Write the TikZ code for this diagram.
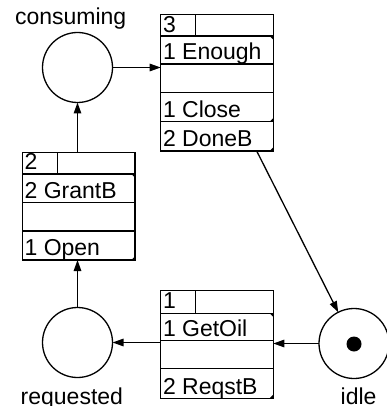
\documentclass[tikz,border=0pt]{standalone}
\usepackage{fontspec}
\setmainfont{Liberation Sans}
\usetikzlibrary{arrows.meta}
\begin{document}
\begin{tikzpicture}[x=1pt,y=-1pt,line width=1.3pt,
  every node/.style={inner sep=0pt,outer sep=0pt},
  txt/.style={anchor=base west,font=\fontsize{23}{27}\selectfont},
  place/.style={circle,draw,minimum size=70pt},
  token/.style={circle,fill,minimum size=15pt},
  tbox/.style={rectangle,draw,anchor=north west,minimum width=112.6pt},
  arr/.style={-{Triangle[length=11pt,width=7.5pt]}},
  corner/.style={fill}]
\useasboundingbox (0,0) rectangle (387,406);
% places
\node[place] (cons) at (77.5,67.5) {};
\node[place] (req) at (77.5,342.5) {};
\node[place] (idle) at (354,343.5) {};
\node[token] (tok) at (354,344) {};
\node[txt] (lcons) at (15,25) {consuming};
\node[txt] (lreq) at (20.7,404.5) {requested};
\node[txt] (lidle) at (340.7,404.5) {idle};
% transition 1 (top)
\node[tbox,minimum height=136.3pt] (t1) at (160.7,14.7) {};
\draw (160.7,36) -- (273.3,36);
\draw (160.7,64) -- (273.3,64);
\draw (160.7,92.3) -- (273.3,92.3);
\draw (160.7,121.7) -- (273.3,121.7);
\draw (195.7,14.7) -- (195.7,36);
\fill[corner] (273.3,36) -- (269.6,36) -- (273.3,39.7) -- cycle;
\fill[corner] (273.3,121.7) -- (269.6,121.7) -- (273.3,118) -- cycle;
\fill[corner] (273.3,151) -- (269.6,151) -- (273.3,147.3) -- cycle;
\node[txt] (t1h) at (163,32.5) {3};
\node[txt] (t1a) at (163,59.5) {1 Enough};
\node[txt] (t1b) at (163,117.2) {1 Close};
\node[txt] (t1c) at (163,146.5) {2 DoneB};
% transition 2 (left)
\node[tbox,minimum height=107.3pt] (t2) at (22.3,152.7) {};
\draw (22.3,174) -- (135,174);
\draw (22.3,202.7) -- (135,202.7);
\draw (22.3,231) -- (135,231);
\draw (57.3,152.7) -- (57.3,174);
\fill[corner] (135,174) -- (131.3,174) -- (135,177.7) -- cycle;
\fill[corner] (135,260) -- (131.3,260) -- (135,256.3) -- cycle;
\node[txt] (t2h) at (24.6,169.6) {2};
\node[txt] (t2a) at (24.6,198.2) {2 GrantB};
\node[txt] (t2b) at (24.6,255.5) {1 Open};
% transition 3 (bottom)
\node[tbox,minimum height=107.6pt] (t3) at (160.7,290.7) {};
\draw (160.7,313.3) -- (273.3,313.3);
\draw (160.7,340.7) -- (273.3,340.7);
\draw (160.7,368.3) -- (273.3,368.3);
\draw (195.7,290.7) -- (195.7,313.3);
\fill[corner] (273.3,313.3) -- (269.6,313.3) -- (273.3,317) -- cycle;
\fill[corner] (273.3,398.3) -- (269.6,398.3) -- (273.3,394.6) -- cycle;
\node[txt] (t3h) at (163,308.8) {1};
\node[txt] (t3a) at (163,336) {1 GetOil};
\node[txt] (t3b) at (163,394) {2 ReqstB};
% arcs
\coordinate (s1) at (256.7,151);
\draw[arr] (cons.east) -- (cons.east -| t1.west);
\draw[arr] (t2.north -| cons.south) -- (cons.south);
\draw[arr] (req.north) -- (req.north |- t2.south);
\draw[arr] (idle.west) -- (idle.west -| t3.east);
\draw[arr] (t3.west |- req.east) -- (req.east);
\draw[arr] (s1) -- (idle);
\end{tikzpicture}
\end{document}
